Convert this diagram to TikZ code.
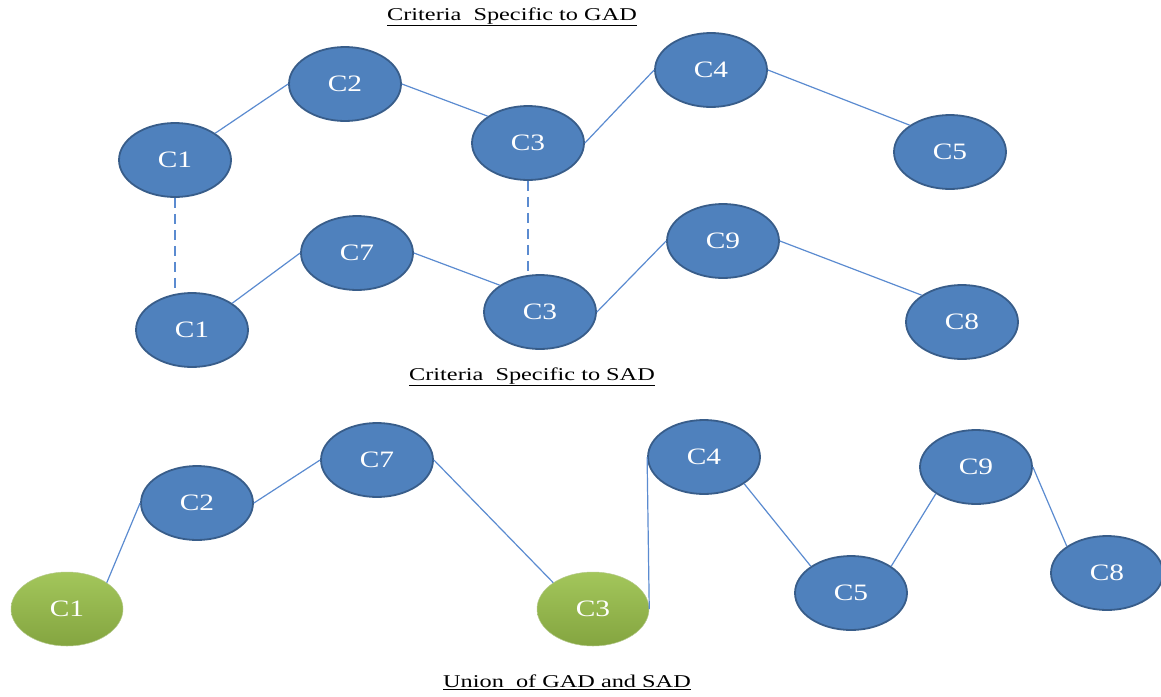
\documentclass[tikz,border=0pt]{standalone}
\usepackage{fontspec}
\setmainfont{Liberation Serif}
\newfontfamily\labelfont{Liberation Serif}[FakeStretch=1.25]
\newfontfamily\titlefont{Liberation Serif}[FakeStretch=1.35]
\usetikzlibrary{shapes.geometric}

\definecolor{nodeblue}{HTML}{4F81BD}
\definecolor{nodeedge}{HTML}{385D8A}
\definecolor{linkblue}{HTML}{5B8BD0}
\definecolor{greenlight}{HTML}{A3C65B}
\definecolor{greenmid}{HTML}{9BBB50}
\definecolor{greendark}{HTML}{84A540}

\tikzset{
  critbase/.style={ellipse, minimum width=112pt, minimum height=74pt, inner sep=0pt,
    font=\labelfont\fontsize{23.5}{23.5}\selectfont, text=white},
  crit/.style={critbase, fill=nodeblue, draw=nodeedge, line width=1.8pt},
  shared/.style={critbase, top color=greenlight, middle color=greenmid, bottom color=greendark,
    draw=greendark!60, line width=0.5pt},
  link/.style={draw=linkblue, line width=1.2pt},
  samecrit/.style={link, dash pattern=on 10pt off 6pt},
  heading/.style={font=\titlefont\fontsize{18}{18}\selectfont, text=black}
}

\begin{document}
\begin{tikzpicture}[x=1pt, y=-1pt]
  \useasboundingbox (0,0) rectangle (1161,696);

  % ---- criteria specific to GAD ----
  \node[heading] (tG) at (512,17) {\underline{Criteria\ \ Specific to GAD}};
  \node[crit] (g1) at (175,160) {C1};
  \node[crit] (g2) at (345,84)  {C2};
  \node[crit] (g3) at (528,143) {C3};
  \node[crit] (g4) at (711,70)  {C4};
  \node[crit] (g5) at (950,152) {C5};
  \draw[link] (g1.north east) -- (g2.west);
  \draw[link] (g2.east) -- (g3.north west);
  \draw[link] (g3.east) -- (g4.west);
  \draw[link] (g4.east) -- (g5.north west);

  % ---- criteria specific to SAD ----
  \node[heading] (tS) at (532,377) {\underline{Criteria\ \ Specific to SAD}};
  \node[crit] (s1) at (192,330) {C1};
  \node[crit] (s7) at (357,253) {C7};
  \node[crit] (s3) at (540,312) {C3};
  \node[crit] (s9) at (723,241) {C9};
  \node[crit] (s8) at (962,322) {C8};
  \draw[link] (s1.north east) -- (s7.west);
  \draw[link] (s7.east) -- (s3.north west);
  \draw[link] (s3.east) -- (s9.west);
  \draw[link] (s9.east) -- (s8.north west);

  % shared criteria between the two sets
  \draw[samecrit] (g1.south) -- (g1.south |- s1.north);
  \draw[samecrit] (g3.south) -- (g3.south |- s3.north);

  % ---- union of GAD and SAD ----
  \node[heading] (tU) at (567,682) {\underline{Union\ \ of GAD and SAD}};
  \node[shared] (u1) at (67,609)  {C1};
  \node[crit]   (u2) at (197,503) {C2};
  \node[crit]   (u7) at (377,460) {C7};
  \node[shared] (u3) at (593,609) {C3};
  \node[crit]   (u4) at (704,457) {C4};
  \node[crit]   (u5) at (851,593) {C5};
  \node[crit]   (u9) at (976,467) {C9};
  \node[crit]   (u8) at (1107,573) {C8};
  \draw[link] (u1.north east) -- (u2.west);
  \draw[link] (u2.east) -- (u7.west);
  \draw[link] (u7.east) -- (u3.north west);
  \draw[link] (u3.east) -- (u4.west);
  \draw[link] (u4.south east) -- (u5.north west);
  \draw[link] (u5.north east) -- (u9.south west);
  \draw[link] (u9.east) -- (u8.north west);
\end{tikzpicture}
\end{document}
